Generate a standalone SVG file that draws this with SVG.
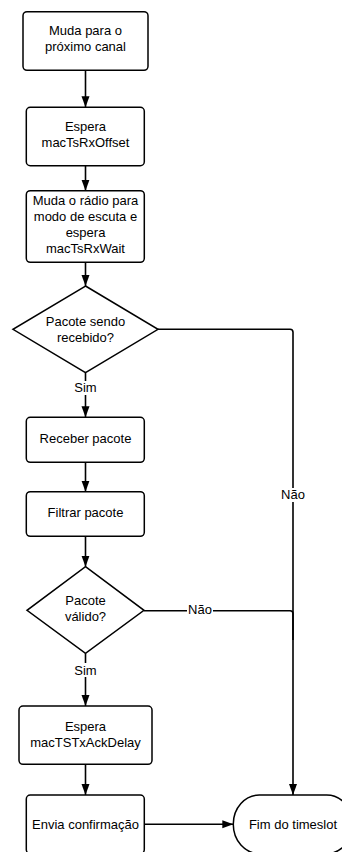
<svg xmlns="http://www.w3.org/2000/svg" width="342" height="852" viewBox="0 0 342 852">
  <defs>
    <marker id="arrow" markerUnits="userSpaceOnUse" markerWidth="12" markerHeight="9" refX="11" refY="4" orient="auto">
      <path d="M0,0 L11,4 L0,8 Z" fill="#000"/>
    </marker>
    <style>
      .shape { fill: #fff; stroke: #000; stroke-width: 1.5; }
      .edge { fill: none; stroke: #000; stroke-width: 1.6; }
      .arrow { marker-end: url(#arrow); }
      text { font-family: "Liberation Sans", Arial, sans-serif; font-size: 13px; fill: #000; text-anchor: middle; }
      .lbl-bg { fill: #fff; stroke: none; }
    </style>
  </defs>
  <rect width="342" height="852" fill="#fff"/>

  <!-- connectors -->
  <g id="connectors">
    <path class="edge arrow" d="M85.5,70.3 V107.3"/>
    <path class="edge arrow" d="M85.5,165.7 V190.7"/>
    <path class="edge arrow" d="M85.5,262.3 V286"/>
    <path class="edge arrow" d="M85.5,372.7 V417.3"/>
    <path class="edge arrow" d="M85.5,462.3 V491.7"/>
    <path class="edge arrow" d="M85.5,536.3 V566.7"/>
    <path class="edge arrow" d="M85.5,653.3 V706"/>
    <path class="edge arrow" d="M85.5,764.3 V795"/>
    <path class="edge arrow" d="M144.3,824.3 H233.3"/>
    <path class="edge arrow" d="M158,329.3 H290 Q293,329.3 293,332.3 V795"/>
    <path class="edge" d="M144,610.7 H290 Q293,610.7 293,613.7 V640"/>
    <!-- edge labels -->
    <rect class="lbl-bg" x="74" y="381" width="23" height="14"/>
    <text x="85.5" y="392">Sim</text>
    <rect class="lbl-bg" x="74" y="663" width="23" height="14"/>
    <text x="85.5" y="674.5">Sim</text>
    <rect class="lbl-bg" x="280" y="488" width="26" height="14"/>
    <text x="293" y="499">Não</text>
    <rect class="lbl-bg" x="187" y="602" width="26" height="14"/>
    <text x="200" y="613.5">Não</text>
  </g>

  <g id="n1">
    <rect class="shape" x="23" y="11.7" width="125" height="58.6" rx="4"/>
    <text x="85.5" y="34.7">Muda para o</text>
    <text x="85.5" y="50.7">próximo canal</text>
  </g>
  <g id="n2">
    <rect class="shape" x="26.3" y="107.3" width="118" height="58.4" rx="4"/>
    <text x="85.5" y="131">Espera</text>
    <text x="85.5" y="147">macTsRxOffset</text>
  </g>
  <g id="n3">
    <rect class="shape" x="26.3" y="190.7" width="118" height="71.6" rx="4"/>
    <text x="85.5" y="205.2">Muda o rádio para</text>
    <text x="85.5" y="221">modo de escuta e</text>
    <text x="85.5" y="237">espera</text>
    <text x="85.5" y="253">macTsRxWait</text>
  </g>
  <g id="d1">
    <polygon class="shape" points="85.5,286 158,329.3 85.5,372.7 13,329.3"/>
    <text x="85.5" y="326">Pacote sendo</text>
    <text x="85.5" y="341.5">recebido?</text>
  </g>
  <g id="n4">
    <rect class="shape" x="26.3" y="417.3" width="118" height="45" rx="4"/>
    <text x="85.5" y="443.3">Receber pacote</text>
  </g>
  <g id="n5">
    <rect class="shape" x="26.3" y="491.7" width="118" height="44.6" rx="4"/>
    <text x="85.5" y="517">Filtrar pacote</text>
  </g>
  <g id="d2">
    <polygon class="shape" points="85.5,566.7 144,610.3 85.5,653.3 27,610.3"/>
    <text x="85.5" y="605">Pacote</text>
    <text x="85.5" y="621">válido?</text>
  </g>
  <g id="n6">
    <rect class="shape" x="19" y="706" width="133" height="58.3" rx="4"/>
    <text x="85.5" y="730.5">Espera</text>
    <text x="85.5" y="746.5">macTSTxAckDelay</text>
  </g>
  <g id="n7">
    <rect class="shape" x="26.3" y="795" width="118" height="58.6" rx="4"/>
    <text x="85.5" y="829">Envia confirmação</text>
  </g>
  <g id="end">
    <rect class="shape" x="233.3" y="795" width="119.4" height="58.6" rx="26" ry="29"/>
    <text x="293" y="829">Fim do timeslot</text>
  </g>
</svg>
